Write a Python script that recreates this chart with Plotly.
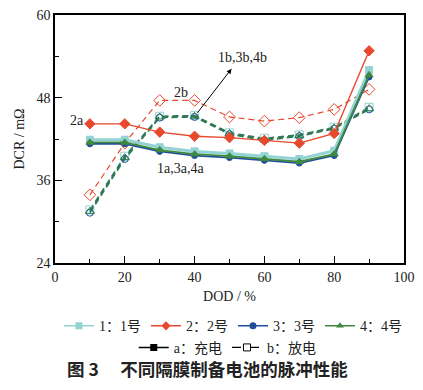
import plotly.graph_objects as go

dod = [10, 20, 30, 40, 50, 60, 70, 80, 90]

s1a = [41.9, 41.9, 40.8, 40.2, 39.9, 39.5, 39.1, 40.3, 52.0]
s2a = [44.2, 44.2, 43.0, 42.4, 42.2, 41.8, 41.4, 42.8, 54.8]
s3a = [41.3, 41.3, 40.2, 39.6, 39.3, 38.9, 38.5, 39.6, 51.0]
s4a = [41.5, 41.5, 40.4, 39.8, 39.5, 39.1, 38.7, 39.8, 51.3]

s1b = [31.7, 39.5, 45.3, 45.4, 42.9, 42.1, 42.6, 43.7, 46.6]
s2b = [33.9, 41.4, 47.6, 47.6, 45.2, 44.6, 45.1, 46.3, 49.2]
s3b = [31.3, 39.1, 45.1, 45.2, 42.7, 41.8, 42.4, 43.5, 46.3]
s4b = [31.5, 39.3, 45.2, 45.3, 42.8, 41.9, 42.5, 43.6, 46.4]

C1 = "#93d3d3"
C2 = "#e8482c"
C3 = "#1f4e9e"
C4 = "#3f8a3f"
CB = "#2f7a55"

SERIF = "Liberation Serif, Times New Roman, serif"
CJK = "Liberation Serif, Noto Sans CJK SC, serif"

fig = go.Figure()

def add(y, color, sym, dash, lw, ms, lcolor=None):
    fig.add_trace(go.Scatter(
        x=dod, y=y, mode="lines+markers", showlegend=False,
        line=dict(color=lcolor or color, width=lw, dash=dash),
        marker=dict(symbol=sym, size=ms, color=color,
                    line=dict(color=color, width=1)),
    ))

# discharge (b) dashed, open markers
add(s1b, C1, "square-open", "6px,4px", 1.6, 8, lcolor=CB)
add(s3b, C3, "circle-open", "6px,4px", 1.6, 7, lcolor=CB)
add(s4b, CB, "triangle-up-open", "6px,4px", 1.8, 8, lcolor=CB)
add(s2b, C2, "diamond-open", "6px,4px", 1.2, 9)
# charge (a) solid, filled markers
add(s1a, C1, "square", "solid", 3, 7)
add(s3a, C3, "circle", "solid", 1.8, 6)
add(s4a, C4, "triangle-up", "solid", 1.8, 7)
add(s2a, C2, "diamond", "solid", 1.4, 8)

# legend entries
for name, c, sym in [("1：1号", C1, "square"), ("2：2号", C2, "diamond"),
                     ("3：3号", C3, "circle"), ("4：4号", C4, "triangle-up")]:
    fig.add_trace(go.Scatter(x=[None], y=[None], mode="lines+markers", name=name,
                             line=dict(color=c, width=1.5),
                             marker=dict(symbol=sym, size=7, color=c), legend="legend"))
fig.add_trace(go.Scatter(x=[None], y=[None], mode="lines+markers", name="a：充电",
                         line=dict(color="black", width=1.5),
                         marker=dict(symbol="square", size=7, color="black"), legend="legend2"))
fig.add_trace(go.Scatter(x=[None], y=[None], mode="lines+markers", name="b：放电",
                         line=dict(color="black", width=1.2, dash="dash"),
                         marker=dict(symbol="square-open", size=7, color="black"), legend="legend2"))

axis_common = dict(showline=True, linecolor="black", linewidth=1.5, mirror=True,
                   ticks="inside", ticklen=7, tickwidth=1.2, tickcolor="black",
                   showgrid=False, zeroline=False, ticklabeloverflow="allow",
                   tickfont=dict(family=SERIF, size=14, color="#222"))

fig.update_xaxes(range=[0, 100], dtick=20, tick0=0,
                 minor=dict(ticks="inside", ticklen=4, dtick=10, tick0=0, tickcolor="black"),
                 title=dict(text="DOD / %", font=dict(family=SERIF, size=14, color="#222"), standoff=8),
                 **axis_common)
fig.update_yaxes(range=[24, 60], dtick=12, tick0=24,
                 minor=dict(ticks="inside", ticklen=4, dtick=6, tick0=24, tickcolor="black"),
                 title=dict(text="DCR / mΩ", font=dict(family=SERIF, size=14, color="#222"), standoff=9),
                 **axis_common)

ann_font = dict(family=SERIF, size=14, color="#222")
fig.add_annotation(x=6.3, y=44.7, text="2a", showarrow=False, font=ann_font)
fig.add_annotation(x=36.2, y=48.8, text="2b", showarrow=False, font=ann_font)
fig.add_annotation(x=53.8, y=53.8, text="1b,3b,4b", showarrow=False, font=ann_font)
fig.add_annotation(x=36.0, y=37.7, text="1a,3a,4a", showarrow=False, font=ann_font)
fig.add_annotation(x=50.6, y=52.2, ax=40.5, ay=45.6, axref="x", ayref="y",
                   xref="x", yref="y", text="", showarrow=True,
                   arrowhead=2, arrowsize=1, arrowwidth=1, arrowcolor="black")

fig.add_annotation(x=0.436, y=-0.427, xref="paper", yref="paper",
                   xanchor="center", yanchor="middle",
                   text="<b>图 3　 不同隔膜制备电池的脉冲性能</b>", showarrow=False,
                   font=dict(family="Noto Sans CJK SC, sans-serif", size=17.5, color="#222"))

fig.update_layout(
    width=423, height=390,
    margin=dict(l=55, r=17, t=8, b=127),
    plot_bgcolor="white", paper_bgcolor="white",
    legend=dict(orientation="h", x=0.51, xanchor="center", y=-0.255, yanchor="middle",
                font=dict(family=CJK, size=14, color="#222"), itemwidth=30,
                bgcolor="rgba(0,0,0,0)", tracegroupgap=0),
    legend2=dict(orientation="h", x=0.495, xanchor="center", y=-0.342, yanchor="middle",
                 font=dict(family=CJK, size=14, color="#222"), itemwidth=30,
                 bgcolor="rgba(0,0,0,0)"),
)

fig.write_html("out.html", config={"displayModeBar": False},
               post_script="document.body.style.margin='0';")
